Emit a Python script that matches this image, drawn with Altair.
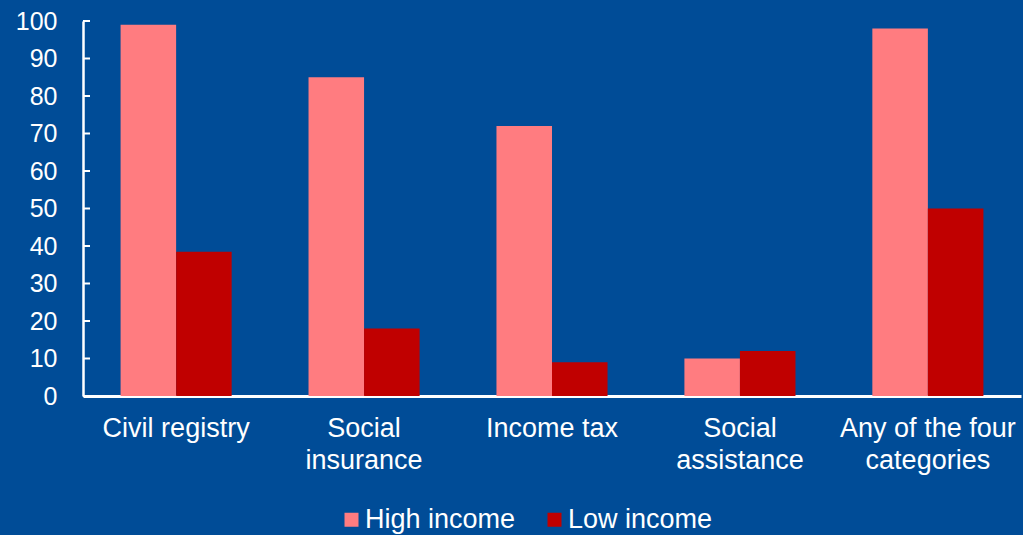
import altair as alt
import pandas as pd

categories = ["Civil registry", "Social|insurance", "Income tax", "Social|assistance", "Any of the four|categories"]
series = ["High income", "Low income"]
high_income = [99, 85, 72, 10, 98]
low_income = [38.5, 18, 9, 12, 50]
y_ticks = [0, 10, 20, 30, 40, 50, 60, 70, 80, 90, 100]

colors = ["#FF7C80", "#C00000"]
bg = "#004C97"
font = "Liberation Sans"

rows = []
for c, h, l in zip(categories, high_income, low_income):
    rows.append({"category": c, "series": series[0], "value": h})
    rows.append({"category": c, "series": series[1], "value": l})
df = pd.DataFrame(rows)
ticks_df = pd.DataFrame({"v": y_ticks})

yscale = alt.Scale(domain=[0, 100], nice=False)
yaxis = alt.Axis(title=None, values=y_ticks, ticks=False, tickSize=0,
                 domainColor="white", domainWidth=2.5, grid=False,
                 labelColor="white", labelFont=font, labelFontSize=25,
                 labelPadding=26)

bars = alt.Chart(df).mark_bar().encode(
    x=alt.X("category:N", sort=categories,
            scale=alt.Scale(paddingInner=0.409, paddingOuter=0.2),
            axis=alt.Axis(title=None, labelAngle=0, ticks=False, tickSize=0,
                          domainColor="white", domainWidth=3,
                          labelColor="white", labelFont=font, labelFontSize=27,
                          labelPadding=19, labelLineHeight=32,
                          labelExpr="split(datum.label, '|')")),
    xOffset=alt.XOffset("series:N", sort=series, scale=alt.Scale(paddingInner=0)),
    y=alt.Y("value:Q", scale=yscale, axis=yaxis),
    color=alt.Color("series:N", sort=series,
                    scale=alt.Scale(domain=series, range=colors),
                    legend=alt.Legend(title=None, orient="none", legendX=255, legendY=485,
                                      direction="horizontal", symbolType="square",
                                      symbolSize=196, symbolStrokeWidth=0,
                                      labelColor="white", labelFont=font, labelFontSize=27,
                                      labelOffset=0, columnPadding=25)),
)

tick_marks = alt.Chart(ticks_df).mark_rule(color="white", strokeWidth=2).encode(
    y=alt.Y("v:Q", scale=yscale, axis=yaxis),
    x=alt.value(0),
    x2=alt.value(7),
)

chart = alt.layer(bars, tick_marks).properties(
    width=938, height=375,
    autosize=alt.AutoSizeParams(type="none"),
    padding={"left": 83, "top": 21, "right": 2, "bottom": 139},
    background=bg,
).configure_view(stroke=None)

chart.save("out.html", embed_options={"renderer": "svg", "actions": False})
